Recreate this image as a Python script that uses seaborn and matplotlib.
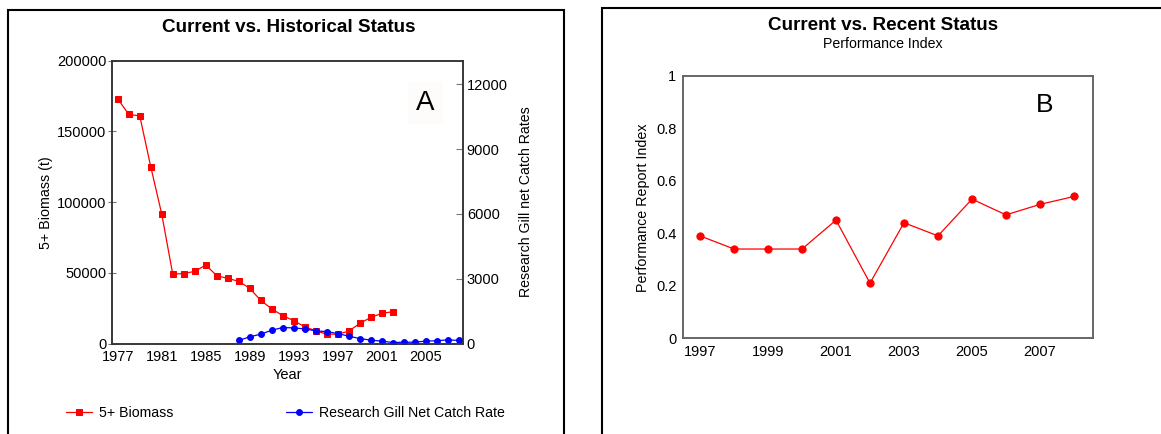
import matplotlib
matplotlib.use("Agg")
import matplotlib.pyplot as plt
from matplotlib.patches import Rectangle
from matplotlib.ticker import MultipleLocator, FixedLocator, FuncFormatter
import seaborn as sns
import pandas as pd

# ---- data ----
biomass_years = list(range(1977, 2003))
biomass_t = [173000, 162000, 161000, 125000, 91500, 49000, 49500, 51000, 55500,
             48000, 46000, 44000, 39000, 30500, 24500, 19700, 16200, 11800,
             9000, 6600, 6600, 8700, 14200, 18400, 21300, 22500]

catch_years = list(range(1988, 2009))
catch_rate = [140, 310, 430, 615, 740, 720, 675, 585, 550, 460, 340, 230, 155,
              110, 45, 60, 60, 110, 125, 170, 140]

index_years = list(range(1997, 2009))
index_values = [0.39, 0.34, 0.34, 0.34, 0.45, 0.21, 0.44, 0.39, 0.53, 0.47,
                0.51, 0.54]

sns.set_style("white")
plt.rcParams["font.family"] = ["Liberation Sans", "DejaVu Sans"]
plt.rcParams.update({"text.color": "black", "axes.labelcolor": "black",
                     "xtick.labelcolor": "black", "ytick.labelcolor": "black"})

W, H = 1161, 434
fig = plt.figure(figsize=(W / 100, H / 100), dpi=100)


def px_axes(left, top, right, bottom):
    return fig.add_axes([left / W, (H - bottom) / H, (right - left) / W, (bottom - top) / H])


def px_rect(left, top, right, bottom, lw=1.5):
    fig.add_artist(Rectangle((left / W, (H - bottom) / H), (right - left) / W,
                             (bottom - top) / H, transform=fig.transFigure,
                             fill=False, edgecolor="black", linewidth=lw,
                             clip_on=False))


# panel frames
px_rect(8, 10, 564, 470)
px_rect(602, 7.5, 1200, 470)

# ---------------- Panel A ----------------
axA = px_axes(111.7, 60.7, 462.7, 343.5)
bio_df = pd.DataFrame({"Year": biomass_years, "Biomass": biomass_t})
sns.lineplot(data=bio_df, x="Year", y="Biomass", ax=axA, color="red",
             marker="s", markersize=4.6, markeredgecolor="red", linewidth=0.9,
             label="5+ Biomass", legend=False)
axA.set_xlim(1976.45, 2008.36)
axA.set_ylim(0, 200000)
axA.xaxis.set_major_locator(FixedLocator(list(range(1977, 2008, 4))))
axA.xaxis.set_minor_locator(MultipleLocator(1))
axA.yaxis.set_major_locator(MultipleLocator(50000))
axA.tick_params(axis="x", which="both", direction="in", length=4, width=0.8,
                color="#777777", labelsize=10.5, pad=5, top=False)
axA.tick_params(axis="y", which="major", direction="inout", length=6,
                width=0.8, color="#777777", labelsize=10.5, pad=1)
for s in axA.spines.values():
    s.set_color("#333333")
    s.set_linewidth(1.1)
axA.set_xlabel("Year", fontsize=10.5)
axA.xaxis.set_label_coords(0.5, -0.085)
axA.set_ylabel("5+ Biomass (t)", fontsize=10.3, va="center")
axA.yaxis.set_label_coords(-0.186, 0.497)

axA2 = axA.twinx()
catch_df = pd.DataFrame({"Year": catch_years, "Rate": catch_rate})
sns.lineplot(data=catch_df, x="Year", y="Rate", ax=axA2, color="blue",
             marker="o", markersize=4.2, markeredgecolor="blue", linewidth=0.9,
             label="Research Gill Net Catch Rate", legend=False)
axA2.set_ylim(0, 13090)
axA2.yaxis.set_major_locator(MultipleLocator(3000))
axA2.tick_params(axis="y", which="major", direction="in", length=5, width=0.8,
                 color="#777777", labelsize=10.5, pad=3)
axA2.set_ylabel("Research Gill net Catch Rates", fontsize=10.2, va="center",
                rotation=90)
axA2.yaxis.set_label_coords(1.180, 0.500)
for s in axA2.spines.values():
    s.set_color("#333333")
    s.set_linewidth(1.1)

axA.text(0.893, 0.85, "A", transform=axA.transAxes, fontsize=20,
         ha="center", va="center",
         bbox=dict(facecolor="#fdfcfa", edgecolor="none", pad=6))

fig.text(289 / W, 1 - 27 / H, "Current vs. Historical Status", ha="center",
         va="center", fontsize=13.6, fontweight="bold")

hA, lA = axA.get_legend_handles_labels()
hB, lB = axA2.get_legend_handles_labels()
fig.legend(hA + hB, lA + lB, loc="center left",
           bbox_to_anchor=(66 / W, 1 - 413 / H), ncol=2, frameon=False,
           fontsize=10.2, handlelength=1.85, handletextpad=0.45,
           columnspacing=8.0, borderpad=0, borderaxespad=0)

# ---------------- Panel B ----------------
axB = px_axes(682.7, 75.7, 1093, 338.3)
idx_df = pd.DataFrame({"Year": index_years, "Index": index_values})
sns.lineplot(data=idx_df, x="Year", y="Index", ax=axB, color="red",
             marker="o", markersize=5.2, markeredgecolor="red", linewidth=0.9)
axB.set_xlim(1996.49, 2008.56)
axB.set_ylim(0, 1)
axB.xaxis.set_major_locator(FixedLocator(list(range(1997, 2009, 2))))
axB.xaxis.set_minor_locator(MultipleLocator(1))
axB.yaxis.set_major_locator(MultipleLocator(0.2))
axB.yaxis.set_minor_locator(MultipleLocator(0.1))
axB.yaxis.set_major_formatter(FuncFormatter(
    lambda v, p: "0" if abs(v) < 1e-9 else ("1" if abs(v - 1) < 1e-9 else f"{v:.1f}")))
axB.tick_params(axis="x", which="both", direction="in", length=4, width=0.8,
                color="#888888", labelsize=10.5, pad=5, top=False)
axB.tick_params(axis="y", which="major", direction="inout", length=7,
                width=0.8, color="#888888", labelsize=10.5, pad=1)
axB.tick_params(axis="y", which="minor", direction="in", length=4,
                width=0.8, color="#888888")
for s in axB.spines.values():
    s.set_color("#666666")
    s.set_linewidth(1.4)
axB.set_xlabel("")
axB.set_ylabel("Performance Report Index", fontsize=10.3, va="center")
axB.yaxis.set_label_coords(-0.097, 0.498)

axB.text(0.882, 0.89, "B", transform=axB.transAxes, fontsize=19,
         ha="center", va="center")

fig.text(883 / W, 1 - 25 / H, "Current vs. Recent Status", ha="center",
         va="center", fontsize=13.6, fontweight="bold")
fig.text(883 / W, 1 - 43.5 / H, "Performance Index", ha="center",
         va="center", fontsize=10.2)

fig.savefig("out.png", dpi=100)
